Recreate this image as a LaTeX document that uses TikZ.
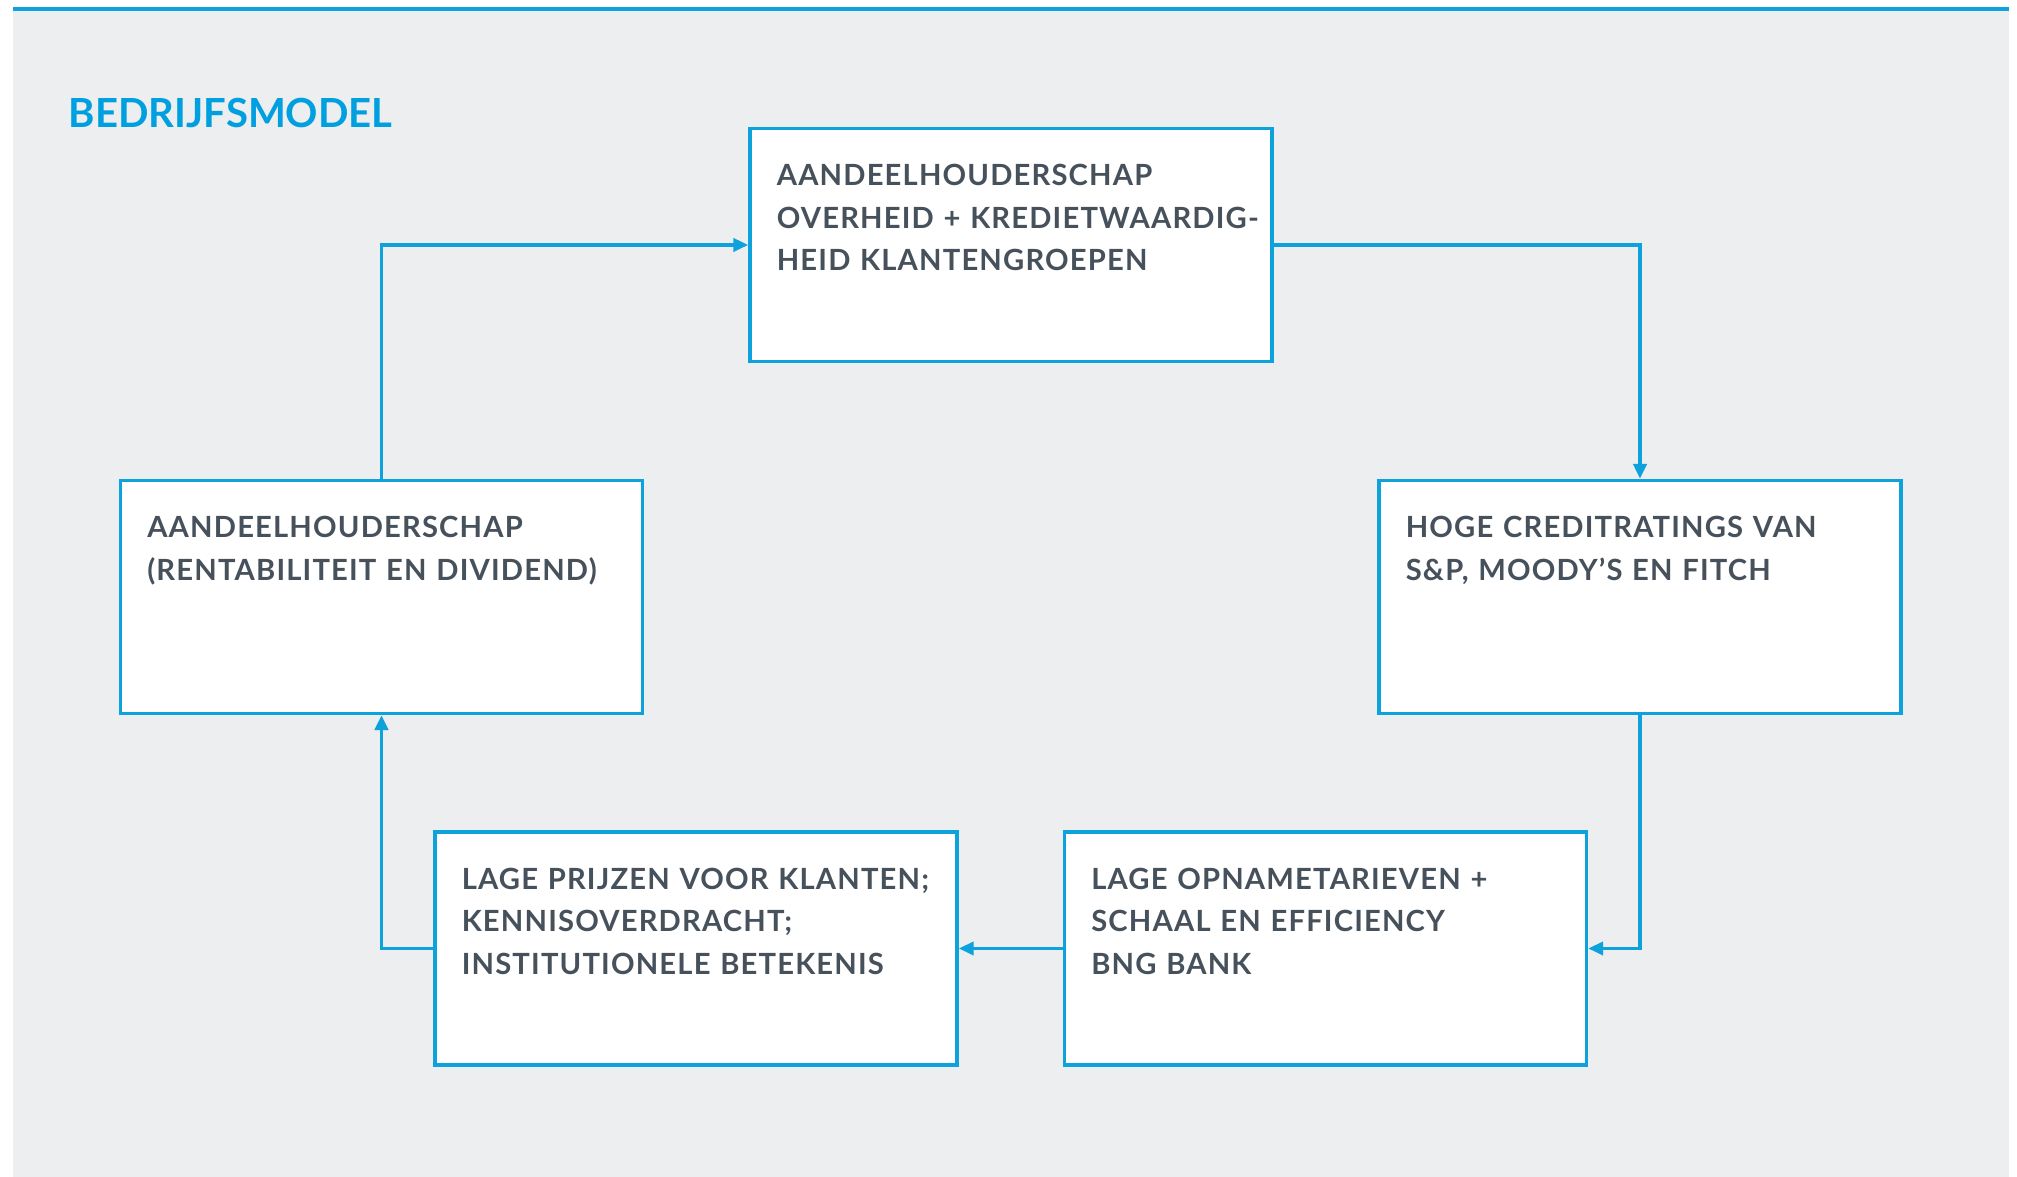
\documentclass[tikz,border=0pt]{standalone}
\usepackage{fontspec}
\setmainfont{Lato}
\newfontfamily\blokfont[LetterSpace=4]{Lato}
\usetikzlibrary{arrows.meta}
\definecolor{bngblue}{HTML}{0EA2DC}
\definecolor{bngtitle}{HTML}{009FDF}
\definecolor{bnggrey}{HTML}{46515C}
\definecolor{bngbg}{HTML}{EDEEF0}
\begin{document}
\begin{tikzpicture}[x=0.01cm,y=-0.01cm,
  blok/.style={draw=bngblue,line width=1pt,fill=white,minimum width=5.22cm,minimum height=2.33cm,inner sep=0pt},
  tekst/.style={anchor=base west,inner sep=0pt,text width=6cm,align=left,text=bnggrey,font=\blokfont\bfseries\fontsize{8.3}{12.1}\selectfont},
  pijl/.style={draw=bngblue,line width=0.9pt,-{Triangle[length=4.2pt,width=3.8pt]}}]
\useasboundingbox (0,0) rectangle (2017,1177);
\fill[bngbg] (13,9) rectangle (2009,1177);
\draw[bngblue,line width=1pt] (13,9) -- (2009,9);
\node[anchor=base west,inner sep=0pt,text=bngtitle,font=\bfseries\fontsize{11.4}{14}\selectfont] (titel) at (68,128) {BEDRIJFSMODEL};
\node[blok] (top) at (1011,245) {};
\node[blok] (links) at (381.5,597) {};
\node[blok] (rechts) at (1640,597) {};
\node[blok] (ondlinks) at (696,948.5) {};
\node[blok] (ondrechts) at (1325.5,948.5) {};
\node[tekst] at ([shift={(28,59)}]top.north west) {AANDEELHOUDERSCHAP\\OVERHEID + KREDIETWAARDIG-\\HEID KLANTENGROEPEN};
\node[tekst] at ([shift={(28,59)}]links.north west) {AANDEELHOUDERSCHAP\\(RENTABILITEIT EN DIVIDEND)};
\node[tekst] at ([shift={(28,59)}]rechts.north west) {HOGE CREDITRATINGS VAN\\S\&P, MOODY’S EN FITCH};
\node[tekst] at ([shift={(28,59)}]ondlinks.north west) {LAGE PRIJZEN VOOR KLANTEN;\\KENNISOVERDRACHT;\\INSTITUTIONELE BETEKENIS};
\node[tekst] at ([shift={(28,59)}]ondrechts.north west) {LAGE OPNAMETARIEVEN +\\SCHAAL EN EFFICIENCY\\BNG BANK};
\draw[pijl] (links.north) |- (top.west);
\draw[pijl] (top.east) -| (rechts.north);
\draw[pijl] (rechts.south) |- (ondrechts.east);
\draw[pijl] (ondrechts.west) -- (ondlinks.east);
\draw[pijl] (ondlinks.west) -| (links.south);
\end{tikzpicture}
\end{document}
